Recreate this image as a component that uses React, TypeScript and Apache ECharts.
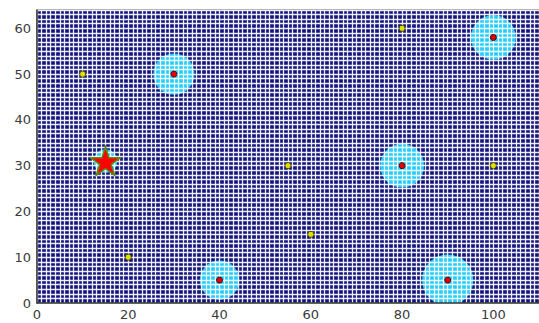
import React, { useEffect, useRef } from "react";
import * as echarts from "echarts";

// Data
const xTicks = [0, 20, 40, 60, 80, 100];
const yTicks = [0, 10, 20, 30, 40, 50, 60];
// targets with their coverage radius (x, y, radius)
const redTargets: [number, number, number][] = [
  [30, 50, 4.5],
  [100, 58, 4.9],
  [80, 30, 4.8],
  [40, 5, 4.3],
  [90, 5, 5.6],
];
const starPoint: [number, number, number][] = [[15, 31, 2.6]];
const yellowPoints: [number, number][] = [
  [10, 50],
  [80, 60],
  [55, 30],
  [100, 30],
  [60, 15],
  [20, 10],
];

const STAR =
  "path://M50 0L61.23 34.55L97.55 34.55L68.16 55.9L79.39 90.45L50 69.1L20.61 90.45L31.84 55.9L2.45 34.55L38.77 34.55Z";

export default function App() {
  const ref = useRef<HTMLDivElement>(null);
  useEffect(() => {
    if (!ref.current) return;
    const chart = echarts.init(ref.current, undefined, { renderer: "svg" });
    const labelStyle = {
      color: "#3a3a3a",
      fontSize: 13,
      fontFamily: "DejaVu Sans",
    };
    const circles = [...redTargets, ...starPoint];
    const gridLine = {
      show: true,
      lineStyle: { color: "rgba(255,255,255,0.9)", width: 1.3 },
    };
    chart.setOption({
      animation: false,
      grid: {
        left: 37,
        right: -5,
        top: 10,
        bottom: 20,
        show: true,
        backgroundColor: "#14147f",
        borderColor: "#444",
        borderWidth: 1,
      },
      xAxis: [
        {
          type: "value",
          min: 0,
          max: 110,
          interval: 20,
          axisLine: { show: true, lineStyle: { color: "#333", width: 1.5 } },
          axisTick: { show: false },
          splitLine: { show: false },
          axisLabel: {
            ...labelStyle,
            margin: 5,
            showMaxLabel: false,
            formatter: (v: number) => (xTicks.includes(v) ? String(v) : ""),
          },
          z: 6,
        },
        {
          type: "value",
          min: 0,
          max: 110,
          interval: 1,
          show: true,
          axisLine: { show: false },
          axisTick: { show: false },
          axisLabel: { show: false },
          splitLine: gridLine,
          z: 4,
        },
      ],
      yAxis: [
        {
          type: "value",
          min: 0,
          max: 64,
          interval: 10,
          axisLine: { show: true, lineStyle: { color: "#333", width: 1.5 } },
          axisTick: { show: false },
          splitLine: { show: false },
          axisLabel: {
            ...labelStyle,
            margin: 6,
            showMaxLabel: false,
            formatter: (v: number) => (yTicks.includes(v) ? String(v) : ""),
          },
          z: 6,
        },
        {
          type: "value",
          min: 0,
          max: 64,
          interval: 1,
          show: true,
          axisLine: { show: false },
          axisTick: { show: false },
          axisLabel: { show: false },
          splitLine: gridLine,
          z: 4,
        },
      ],
      series: [
        {
          type: "custom",
          xAxisIndex: 0,
          yAxisIndex: 0,
          z: 1,
          clip: true,
          data: circles,
          renderItem: (params: any, api: any) => {
            const c = api.coord([api.value(0), api.value(1)]);
            const s = api.size([api.value(2), api.value(2)]);
            return {
              type: "circle",
              shape: { cx: c[0], cy: c[1], r: (s[0] + s[1]) / 2 },
              style: { fill: "#26cdfa" },
            };
          },
        },
        {
          type: "scatter",
          z: 8,
          data: redTargets.map((d) => [d[0], d[1]]),
          symbol: "circle",
          symbolSize: 6,
          itemStyle: { color: "#e00000", borderColor: "#4a0000", borderWidth: 1, opacity: 1 },
        },
        {
          type: "scatter",
          z: 8,
          data: yellowPoints,
          symbol: "circle",
          symbolSize: 6,
          itemStyle: { color: "#e0e000", borderColor: "#505000", borderWidth: 1, opacity: 1 },
        },
        {
          type: "scatter",
          z: 9,
          data: starPoint.map((d) => [d[0], d[1]]),
          symbol: STAR,
          symbolKeepAspect: true,
          symbolSize: 30,
          itemStyle: { color: "#ff0000", borderColor: "#5f8a10", borderWidth: 1.5, opacity: 1 },
        },
      ],
    });
    return () => chart.dispose();
  }, []);
  return (
    <div
      ref={ref}
      style={{ position: "fixed", left: 0, top: 0, width: 539, height: 323, background: "#fff" }}
    />
  );
}
